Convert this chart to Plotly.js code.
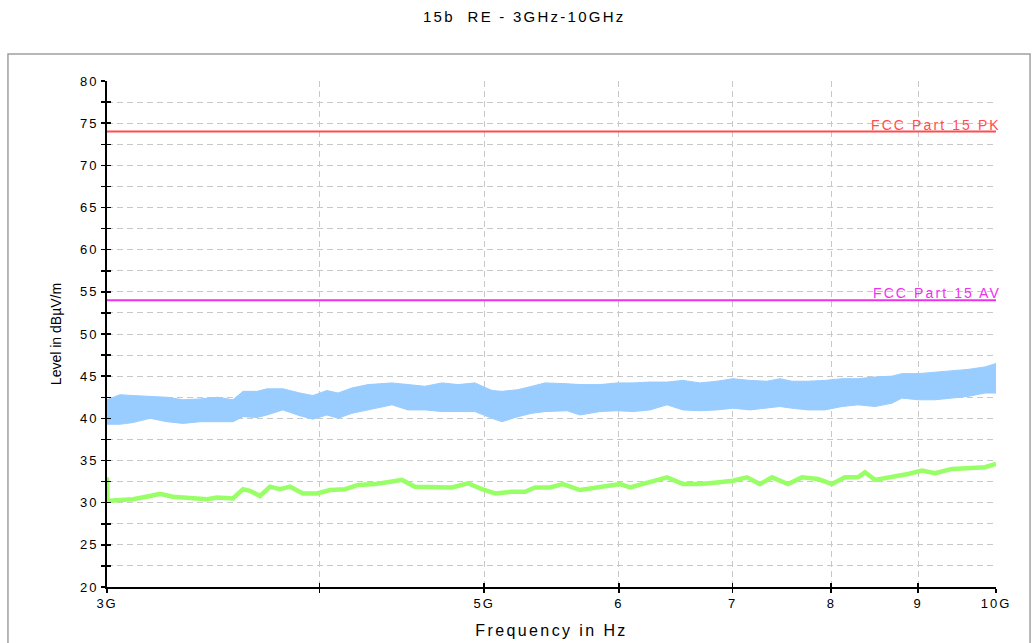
<!DOCTYPE html>
<html>
<head>
<meta charset="utf-8">
<script src="https://cdn.plot.ly/plotly-3.0.1.min.js"></script>
<style>
  html, body { margin: 0; padding: 0; background: #ffffff; }
  #chart { width: 1032px; height: 643px; }
  .xtick text, .ytick text, .gtitle, .xtitle, .annotation-text { letter-spacing: 0.15em; }
</style>
</head>
<body>
<div id="chart"></div>
<script>
// ---- data (frequencies in GHz, levels in dBµV/m) ----
const chartTitle = '15b\u00a0 RE - 3GHz-10GHz';
const xTitle = 'Frequency in Hz';
const yTitle = 'Level in dBµV/m';

const xTickGHz = [3, 4, 5, 6, 7, 8, 9, 10];
const xTickText = ['3G', '', '5G', '6', '7', '8', '9', '10G'];
const yTickVals = [20, 22.5, 25, 27.5, 30, 32.5, 35, 37.5, 40, 42.5, 45, 47.5, 50, 52.5, 55, 57.5, 60, 62.5, 65, 67.5, 70, 72.5, 75, 77.5, 80];
const yTickText = ['20', '', '25', '', '30', '', '35', '', '40', '', '45', '', '50', '', '55', '', '60', '', '65', '', '70', '', '75', '', '80'];

// Peak trace (blue band): lower and upper envelope
const freqBlue = [3.000, 3.053, 3.107, 3.180, 3.254, 3.325, 3.403, 3.482, 3.558, 3.607, 3.676, 3.726, 3.807, 3.896, 3.965, 4.041, 4.102, 4.180, 4.272, 4.413, 4.510, 4.615, 4.722, 4.826, 4.938, 5.053, 5.122, 5.234, 5.334, 5.429, 5.594, 5.693, 5.849, 5.986, 6.117, 6.259, 6.405, 6.545, 6.697, 6.853, 7.003, 7.166, 7.333, 7.463, 7.586, 7.752, 7.932, 8.117, 8.295, 8.488, 8.686, 8.804, 8.997, 9.207, 9.421, 9.628, 9.852, 10.000];
const blueLow = [39.3, 39.3, 39.5, 40.0, 39.6, 39.4, 39.6, 39.6, 39.6, 40.2, 40.1, 40.4, 41.0, 40.3, 39.9, 40.4, 40.0, 40.6, 41.0, 41.6, 41.0, 41.0, 40.8, 40.8, 40.8, 40.0, 39.6, 40.2, 40.6, 40.8, 40.9, 40.4, 40.8, 40.9, 40.8, 41.0, 41.6, 41.0, 40.9, 41.0, 41.2, 41.0, 41.2, 41.4, 41.2, 41.0, 41.0, 41.4, 41.6, 41.4, 41.8, 42.4, 42.2, 42.2, 42.4, 42.6, 43.0, 43.0];
const blueHigh = [42.2, 42.8, 42.7, 42.6, 42.5, 42.2, 42.3, 42.5, 42.2, 43.2, 43.2, 43.5, 43.5, 43.0, 42.7, 43.3, 43.0, 43.6, 44.0, 44.2, 44.0, 43.8, 44.2, 44.0, 44.2, 43.3, 43.2, 43.4, 43.8, 44.2, 44.1, 44.0, 44.0, 44.2, 44.2, 44.3, 44.3, 44.5, 44.2, 44.4, 44.7, 44.5, 44.4, 44.7, 44.4, 44.4, 44.5, 44.7, 44.7, 44.9, 45.0, 45.3, 45.3, 45.5, 45.7, 45.8, 46.1, 46.5];

// Average trace (green)
const freqGreen = [3.000, 3.002, 3.041, 3.107, 3.180, 3.223, 3.280, 3.357, 3.435, 3.482, 3.558, 3.607, 3.641, 3.691, 3.741, 3.792, 3.844, 3.912, 3.987, 4.058, 4.141, 4.214, 4.313, 4.413, 4.473, 4.552, 4.678, 4.786, 4.891, 4.985, 5.074, 5.192, 5.284, 5.356, 5.466, 5.563, 5.693, 5.849, 6.010, 6.092, 6.259, 6.405, 6.545, 6.697, 6.853, 7.003, 7.137, 7.264, 7.383, 7.545, 7.689, 7.858, 8.008, 8.150, 8.295, 8.374, 8.488, 8.686, 8.876, 9.046, 9.207, 9.421, 9.628, 9.852, 10.000];
const greenLevel = [33.0, 30.2, 30.3, 30.4, 30.8, 31.05, 30.7, 30.5, 30.4, 30.6, 30.5, 31.6, 31.4, 30.8, 31.9, 31.6, 31.9, 31.1, 31.1, 31.5, 31.6, 32.1, 32.2, 32.5, 32.7, 31.9, 31.9, 31.8, 32.3, 31.6, 31.1, 31.3, 31.3, 31.8, 31.8, 32.2, 31.5, 31.8, 32.2, 31.8, 32.4, 33.0, 32.2, 32.2, 32.4, 32.6, 33.0, 32.2, 33.0, 32.2, 33.0, 32.8, 32.2, 33.0, 33.0, 33.6, 32.7, 33.0, 33.4, 33.8, 33.5, 34.0, 34.1, 34.2, 34.6];

// Limit lines
const limitFreq = [3, 10];
const pkLimit = [74, 74];
const avLimit = [54, 54];
const pkLabel = 'FCC Part 15 PK';
const avLabel = 'FCC Part 15 AV';

// ---- build ----
const G = 1e9;
const hz = a => a.map(v => v * G);
const FONT = 'Liberation Sans, Arial, sans-serif';
const xRange = [Math.log10(3 * G), Math.log10(10 * G)];

const traces = [
  { x: hz(freqBlue), y: blueLow, type: 'scatter', mode: 'lines',
    line: { color: '#99ccff', width: 1 }, hoverinfo: 'skip', showlegend: false },
  { x: hz(freqBlue), y: blueHigh, type: 'scatter', mode: 'lines', fill: 'tonexty',
    fillcolor: '#99ccff', line: { color: '#99ccff', width: 1 }, hoverinfo: 'skip', showlegend: false },
  { x: hz(freqGreen), y: greenLevel, type: 'scatter', mode: 'lines',
    line: { color: '#99ff66', width: 4.5 }, hoverinfo: 'skip', showlegend: false },
  { x: hz(limitFreq), y: pkLimit, type: 'scatter', mode: 'lines',
    line: { color: '#ff4d4d', width: 2 }, hoverinfo: 'skip', showlegend: false },
  { x: hz(limitFreq), y: avLimit, type: 'scatter', mode: 'lines',
    line: { color: '#f030f0', width: 2 }, hoverinfo: 'skip', showlegend: false },
  // empty traces to draw the inner half of the crossing tick marks
  { x: [], y: [], xaxis: 'x2', yaxis: 'y', type: 'scatter', hoverinfo: 'skip', showlegend: false },
  { x: [], y: [], xaxis: 'x', yaxis: 'y2', type: 'scatter', hoverinfo: 'skip', showlegend: false }
];

const gridDash = '6px,4px';
const layout = {
  width: 1032, height: 643,
  margin: { l: 107, r: 36, t: 81, b: 56 },
  paper_bgcolor: '#ffffff', plot_bgcolor: '#ffffff',
  font: { family: FONT, size: 13, color: '#000000' },
  showlegend: false,
  title: { text: chartTitle, font: { family: FONT, size: 15, color: '#000000' },
           xref: 'container', x: 0.508, xanchor: 'center', yref: 'container', y: 0.9736, yanchor: 'middle' },
  xaxis: {
    type: 'log', range: xRange, autorange: false,
    tickmode: 'array', tickvals: hz(xTickGHz), ticktext: xTickText,
    showgrid: true, gridcolor: '#c8c8c8', gridwidth: 1, griddash: gridDash,
    zeroline: false, showline: true, linecolor: '#000000', linewidth: 1.5,
    ticks: 'outside', ticklen: 4, tickwidth: 1.5, tickcolor: '#000000',
    tickfont: { family: FONT, size: 13, color: '#000000' },
    title: { text: xTitle, font: { family: FONT, size: 16, color: '#000000' }, standoff: 14 },
    automargin: false
  },
  yaxis: {
    range: [20, 80], autorange: false,
    tickmode: 'array', tickvals: yTickVals, ticktext: yTickText,
    showgrid: true, gridcolor: '#c8c8c8', gridwidth: 1, griddash: gridDash,
    zeroline: false, showline: true, linecolor: '#000000', linewidth: 2,
    ticks: 'outside', ticklen: 4, tickwidth: 1.5, tickcolor: '#000000',
    tickfont: { family: FONT, size: 13, color: '#000000' },
    title: { text: yTitle, font: { family: FONT, size: 14, color: '#000000' }, standoff: 15 },
    automargin: false
  },
  xaxis2: {
    type: 'log', range: xRange, autorange: false, overlaying: 'x', anchor: 'y', side: 'bottom',
    tickmode: 'array', tickvals: hz(xTickGHz), showticklabels: false,
    showgrid: false, zeroline: false, showline: false,
    ticks: 'inside', ticklen: 4, tickwidth: 1.5, tickcolor: '#000000'
  },
  yaxis2: {
    range: [20, 80], autorange: false, overlaying: 'y', anchor: 'x', side: 'left',
    tickmode: 'array', tickvals: yTickVals, showticklabels: false,
    showgrid: false, zeroline: false, showline: false,
    ticks: 'inside', ticklen: 4, tickwidth: 1.5, tickcolor: '#000000'
  },
  annotations: [
    { xref: 'x', yref: 'y', x: xRange[1], y: pkLimit[1], text: pkLabel, showarrow: false,
      xanchor: 'right', yanchor: 'bottom', xshift: 6, yshift: -2, borderpad: 0,
      font: { family: FONT, size: 14, color: '#ff4d4d' } },
    { xref: 'x', yref: 'y', x: xRange[1], y: avLimit[1], text: avLabel, showarrow: false,
      xanchor: 'right', yanchor: 'bottom', xshift: 6, yshift: -2, borderpad: 0,
      font: { family: FONT, size: 14, color: '#f030f0' } }
  ],
  shapes: [
    { type: 'rect', xref: 'paper', yref: 'paper', x0: -0.1114, x1: 1.0383, y0: -0.1146, y1: 1.0534,
      line: { color: '#a0a0a0', width: 1.5 }, fillcolor: 'rgba(0,0,0,0)', layer: 'below' }
  ]
};

Plotly.newPlot('chart', traces, layout, { displayModeBar: false, staticPlot: true });
</script>
</body>
</html>
